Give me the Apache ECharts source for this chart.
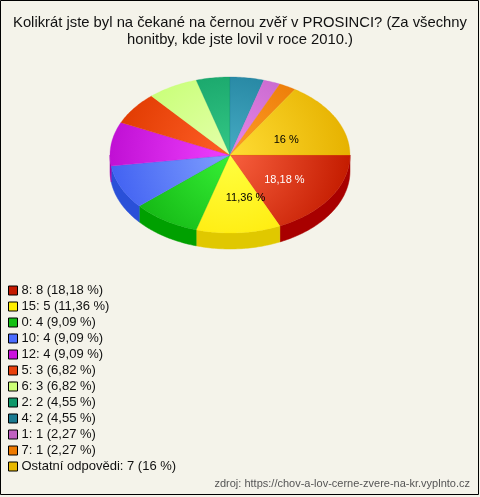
<!DOCTYPE html>
<html>
<head>
<meta charset="utf-8">
<script src="https://cdn.jsdelivr.net/npm/echarts@6/dist/echarts.min.js"></script>
<style>
  html, body { margin: 0; padding: 0; background: #f4f3ea; }
  #chart { width: 480px; height: 497px; }
</style>
</head>
<body>
<div id="chart"></div>
<script>
// data
var categories = ['8', '15', '0', '10', '12', '5', '6', '2', '4', '1', '7', 'Ostatní odpovědi'];
var values = [8, 5, 4, 4, 4, 3, 3, 2, 2, 1, 1, 7];
var percents = ['18,18 %', '11,36 %', '9,09 %', '9,09 %', '9,09 %', '6,82 %', '6,82 %', '4,55 %', '4,55 %', '2,27 %', '2,27 %', '16 %'];

// colours: legend / light top / dark top edge / side wall
var legendColors = ['#c41a00', '#ffee00', '#14c014', '#4a6cff', '#cc10dd', '#e8400c', '#ccff77', '#10996a', '#1a7a90', '#c060c0', '#ee7a00', '#e8b800'];
var lightColors = ['#f8603e', '#ffff40', '#36f036', '#80a0ff', '#f040ff', '#ff6028', '#e4ffaa', '#34c886', '#46acc4', '#e888e8', '#ff9c28', '#ffdc34'];
var darkColors = ['#c41c00', '#ffe600', '#10b010', '#4262f2', '#c010d4', '#e03a00', '#c4ff70', '#109a62', '#1a7896', '#c060c8', '#e87600', '#e6b200'];
var sideColors = ['#a80000', '#e0c800', '#00a000', '#2a50d8', '#a000b0', '#c03000', '#a0d860', '#00805a', '#0a6078', '#a040a0', '#c86000', '#c89800'];
var labelInk = ['#fff', '#000', '#000', '#000', '#000', '#000', '#000', '#000', '#000', '#000', '#000', '#000'];

var cx = 230, cy = 155, rx = 120, ry = 78, depth = 16;

var total = values.reduce(function (a, b) { return a + b; }, 0);
var angles = [];
var acc = 0;
values.forEach(function (v) {
    var a0 = acc / total * Math.PI * 2;
    acc += v;
    angles.push([a0, acc / total * Math.PI * 2]);
});

function pt (t, dy) {
    return [cx + rx * Math.cos(t), cy + ry * Math.sin(t) + (dy || 0)];
}

function arc (a0, a1, dy) {
    var pts = [];
    var n = Math.max(2, Math.ceil((a1 - a0) / (Math.PI / 180)));
    for (var k = 0; k <= n; k++) {
        pts.push(pt(a0 + (a1 - a0) * k / n, dy));
    }
    return pts;
}

function renderSlice (params, api) {
    var i = params.seriesIndex;
    var a0 = angles[i][0], a1 = angles[i][1];
    var children = [];
    // front wall (only the part facing down, 0..PI)
    var s0 = Math.max(a0, 0), s1 = Math.min(a1, Math.PI);
    if (s1 > s0) {
        var top = arc(s0, s1, 0);
        var bottom = arc(s0, s1, depth).reverse();
        children.push({
            type: 'polygon',
            z2: 0,
            shape: { points: top.concat(bottom) },
            style: { fill: sideColors[i], stroke: sideColors[i], lineWidth: 0.5 }
        });
    }
    // top face
    children.push({
        type: 'polygon',
        z2: 10,
        shape: { points: [[cx, cy]].concat(arc(a0, a1, 0)) },
        style: {
            fill: {
                type: 'radial', x: cx, y: cy, r: rx, global: true,
                colorStops: [
                    { offset: 0, color: lightColors[i] },
                    { offset: 1, color: darkColors[i] }
                ]
            },
            stroke: darkColors[i],
            lineWidth: 0.3
        }
    });
    // label for the big slices
    if (values[i] / total > 0.1) {
        var mid = (a0 + a1) / 2;
        children.push({
            type: 'text',
            z2: 100,
            x: cx + rx * 0.42 * Math.cos(mid) + 12,
            y: cy + ry * 0.5 * Math.sin(mid) + 4,
            style: {
                text: percents[i],
                fill: labelInk[i],
                font: '11px "Liberation Sans", Arial, sans-serif',
                align: 'center',
                verticalAlign: 'middle'
            }
        });
    }
    return { type: 'group', children: children };
}

var seriesList = categories.map(function (c, i) {
    return {
        name: c + ': ' + values[i] + ' (' + percents[i] + ')',
        type: 'custom',
        coordinateSystem: 'none',
        renderItem: renderSlice,
        data: [[values[i]]],
        silent: true
    };
});

var myChart = echarts.init(document.getElementById('chart'));
var option = {
    backgroundColor: '#f4f3ea',
    color: legendColors,
    animation: false,
    title: {
        text: 'Kolikrát jste byl na čekané na černou zvěř v PROSINCI? (Za všechny\nhonitby, kde jste lovil v roce 2010.)',
        left: 'center',
        top: 9,
        textStyle: {
            fontFamily: '"Liberation Sans", Arial, sans-serif',
            fontSize: 14.8,
            fontWeight: 'normal',
            lineHeight: 17,
            color: '#111'
        }
    },
    legend: {
        orient: 'vertical',
        left: 3,
        top: 279,
        icon: 'rect',
        itemWidth: 9,
        itemHeight: 9,
        itemGap: 3,
        selectedMode: false,
        itemStyle: { borderColor: '#000', borderWidth: 1 },
        textStyle: {
            fontFamily: '"Liberation Sans", Arial, sans-serif',
            fontSize: 13,
            color: '#111',
            padding: [0, 0, 0, -1]
        },
        data: seriesList.map(function (s) { return s.name; })
    },
    graphic: [
        {
            type: 'rect',
            shape: { x: 0.5, y: 0.5, width: 478, height: 494 },
            style: { fill: null, stroke: '#000', lineWidth: 1 },
            silent: true
        },
        {
            type: 'text',
            x: 470,
            y: 484,
            style: {
                text: 'zdroj: https://chov-a-lov-cerne-zvere-na-kr.vyplnto.cz',
                fill: '#555',
                font: '11px "Liberation Sans", Arial, sans-serif',
                align: 'right',
                verticalAlign: 'middle'
            },
            silent: true
        }
    ],
    series: seriesList
};
myChart.setOption(option);
</script>
</body>
</html>
